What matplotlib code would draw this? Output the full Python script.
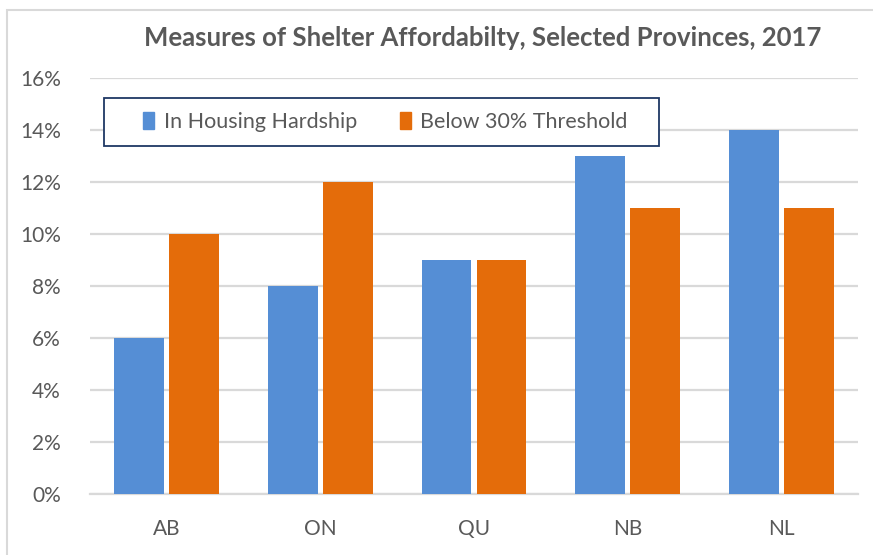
import numpy as np
import matplotlib.pyplot as plt
from matplotlib.patches import Rectangle, Patch
from matplotlib.ticker import PercentFormatter

provinces = ['AB', 'ON', 'QU', 'NB', 'NL']
hardship = [6, 8, 9, 13, 14]
below_30 = [10, 12, 9, 11, 11]
series_names = ['In Housing Hardship', 'Below 30% Threshold']

BLUE = '#558ED5'
ORANGE = '#E46C0A'
TEXT = '#595959'
GRID = '#D9D9D9'

plt.rcParams['font.family'] = ['Lato', 'DejaVu Sans']

fig = plt.figure(figsize=(8.73, 5.55), dpi=100)
W, H = 873, 555
ax = fig.add_axes([90 / W, 1 - 494 / H, 768 / W, 416 / H])

# outer chart border (only left/top visible in the crop)
fig.patches.append(Rectangle((7 / W, -0.1), 1.2, (1 - 10 / H) + 0.1,
                             transform=fig.transFigure, fill=False,
                             edgecolor='#D9D9D9', linewidth=1.5))

x = np.arange(len(provinces))
width = 0.325
off = 0.179
ax.bar(x - off, hardship, width, color=BLUE, zorder=3)
ax.bar(x + off, below_30, width, color=ORANGE, zorder=3)

ax.set_xlim(-0.5, len(provinces) - 0.5)
ax.set_ylim(0, 16)
ax.set_yticks(range(0, 17, 2))
ax.yaxis.set_major_formatter(PercentFormatter(decimals=0))
ax.set_xticks(x)
ax.set_xticklabels(provinces)
ax.grid(axis='y', color=GRID, linewidth=1.6, zorder=0)
for s in ['top', 'right', 'left']:
    ax.spines[s].set_visible(False)
ax.spines['bottom'].set_color(GRID)
ax.spines['bottom'].set_linewidth(1.6)
ax.tick_params(length=0, labelsize=15, labelcolor=TEXT)
ax.tick_params(axis='x', pad=18)
ax.tick_params(axis='y', pad=21)

fig.text(483 / W, 1 - 38 / H, 'Measures of Shelter Affordabilty, Selected Provinces, 2017',
         ha='center', va='center', fontsize=18.5, fontweight='bold', color=TEXT)

# legend box, drawn as its own rectangle so it spans the exact area
handles = [Patch(color=BLUE), Patch(color=ORANGE)]
box = Rectangle((104 / W, 1 - 146 / H), 555 / W, 48 / H, transform=fig.transFigure,
                facecolor='white', edgecolor='#1F3864', linewidth=1.3, zorder=5)
fig.patches.append(box)
leg = fig.legend(handles, series_names, loc='center', ncol=2,
                 bbox_to_anchor=(108 / W, 1 - 146 / H, 555 / W, 48 / H),
                 frameon=False, fontsize=15.5, labelcolor=TEXT,
                 handlelength=0.5, handleheight=0.85, handletextpad=0.45,
                 columnspacing=2.0)
leg.set_zorder(6)

fig.savefig('out.png', dpi=100)
